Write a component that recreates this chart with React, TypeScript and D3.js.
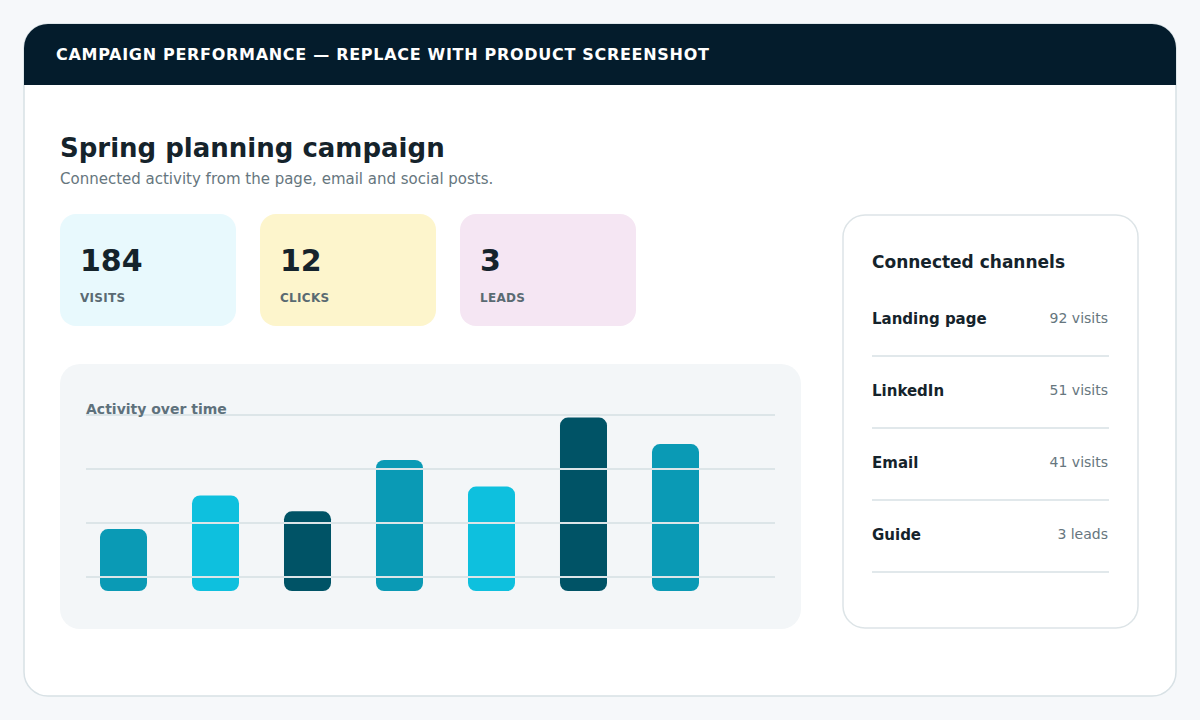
import React, { useEffect, useRef } from "react";
import * as d3 from "d3";

// kpi tiles
const kpiValues: number[] = [184, 12, 3];
const kpiLabels: string[] = ["VISITS", "CLICKS", "LEADS"];
const kpiColors: string[] = ["#e8f9fd", "#fdf5cc", "#f5e6f3"];

// activity bars (relative activity per period)
const activityPeriods: string[] = ["P1", "P2", "P3", "P4", "P5", "P6", "P7"];
const activityValues: number[] = [35, 54, 45, 74, 59, 98, 83];
const barColors: string[] = ["#0a9ab5", "#0ec0de", "#005366"];
const gridLevels: string[] = ["g1", "g2", "g3", "g4"];

// connected channels
const channelNames: string[] = ["Landing page", "LinkedIn", "Email", "Guide"];
const channelValues: number[] = [92, 51, 41, 3];
const channelUnits: string[] = ["visits", "visits", "visits", "leads"];

const FONT = "'DejaVu Sans', Verdana, sans-serif";
const W = 1200;
const H = 720;

export default function App() {
    const svgRef = useRef<SVGSVGElement>(null);

    useEffect(() => {
        document.body.style.margin = "0";
        const svg = d3.select(svgRef.current);
        svg.selectAll("*").remove();

        svg.append("rect").attr("width", W).attr("height", H).attr("fill", "#f6f8fa");

        // card + header clipped by the card shape
        const card = { x: 24, y: 24, w: 1152, h: 672, r: 24 };
        svg.append("defs")
            .append("clipPath")
            .attr("id", "cardClip")
            .append("rect")
            .attr("x", card.x)
            .attr("y", card.y)
            .attr("width", card.w)
            .attr("height", card.h)
            .attr("rx", card.r);

        svg.append("rect")
            .attr("x", card.x)
            .attr("y", card.y)
            .attr("width", card.w)
            .attr("height", card.h)
            .attr("rx", card.r)
            .attr("fill", "#ffffff")
            .attr("stroke", "#d8e1e5")
            .attr("stroke-width", 1.5);

        svg.append("rect")
            .attr("clip-path", "url(#cardClip)")
            .attr("x", card.x)
            .attr("y", card.y)
            .attr("width", card.w)
            .attr("height", 61)
            .attr("fill", "#041c2c");

        svg.append("text")
            .attr("x", 56)
            .attr("y", 60)
            .attr("font-family", FONT)
            .attr("font-size", 16)
            .attr("font-weight", "bold")
            .attr("letter-spacing", 0.7)
            .attr("fill", "#ffffff")
            .text("CAMPAIGN PERFORMANCE \u2014 REPLACE WITH PRODUCT SCREENSHOT");

        svg.append("text")
            .attr("x", 60)
            .attr("y", 157)
            .attr("font-family", FONT)
            .attr("font-size", 26)
            .attr("font-weight", "bold")
            .attr("fill", "#15232b")
            .text("Spring planning campaign");

        svg.append("text")
            .attr("x", 60)
            .attr("y", 184)
            .attr("font-family", FONT)
            .attr("font-size", 15)
            .attr("fill", "#66767e")
            .text("Connected activity from the page, email and social posts.");

        // kpi tiles
        const kpiX = d3
            .scaleBand<number>()
            .domain(d3.range(kpiValues.length))
            .range([60, 636])
            .paddingInner(0.12)
            .paddingOuter(0);
        const kpi = svg
            .selectAll(".kpi")
            .data(kpiValues)
            .enter()
            .append("g")
            .attr("class", "kpi")
            .attr("transform", (d, i) => "translate(" + kpiX(i) + ",214)");
        kpi.append("rect")
            .attr("width", kpiX.bandwidth())
            .attr("height", 112)
            .attr("rx", 16)
            .attr("fill", (d, i) => kpiColors[i]);
        kpi.append("text")
            .attr("x", 20)
            .attr("y", 57)
            .attr("font-family", FONT)
            .attr("font-size", 30)
            .attr("font-weight", "bold")
            .attr("fill", "#15232b")
            .text(d => d);
        kpi.append("text")
            .attr("x", 20)
            .attr("y", 88)
            .attr("font-family", FONT)
            .attr("font-size", 12)
            .attr("font-weight", "bold")
            .attr("letter-spacing", 0.3)
            .attr("fill", "#5a6a72")
            .text((d, i) => kpiLabels[i]);

        // activity panel
        svg.append("rect")
            .attr("x", 60)
            .attr("y", 364)
            .attr("width", 741)
            .attr("height", 265)
            .attr("rx", 20)
            .attr("fill", "#f3f6f8");

        const xScale = d3.scaleBand().domain(activityPeriods).range([100, 699]).paddingInner(0.489).paddingOuter(0);
        const yScale = d3.scaleLinear().domain([0, 100]).range([591, 414]);
        const gridScale = d3.scalePoint().domain(gridLevels).range([415, 577]);

        svg.selectAll(".bar")
            .data(activityValues)
            .enter()
            .append("rect")
            .attr("class", "bar")
            .attr("x", (d, i) => xScale(activityPeriods[i])!)
            .attr("y", d => yScale(d))
            .attr("width", xScale.bandwidth())
            .attr("height", d => yScale(0) - yScale(d))
            .attr("rx", 8)
            .attr("fill", (d, i) => barColors[i % barColors.length]);

        svg.selectAll(".grid")
            .data(gridLevels)
            .enter()
            .append("line")
            .attr("class", "grid")
            .attr("x1", 86)
            .attr("x2", 775)
            .attr("y1", d => gridScale(d)!)
            .attr("y2", d => gridScale(d)!)
            .attr("stroke", "#dce5e8")
            .attr("stroke-width", 2);

        svg.append("text")
            .attr("x", 86)
            .attr("y", 414)
            .attr("font-family", FONT)
            .attr("font-size", 14)
            .attr("font-weight", "bold")
            .attr("fill", "#5e717c")
            .text("Activity over time");

        // connected channels panel
        svg.append("rect")
            .attr("x", 843)
            .attr("y", 215)
            .attr("width", 295)
            .attr("height", 413)
            .attr("rx", 22)
            .attr("fill", "#ffffff")
            .attr("stroke", "#dde4e7")
            .attr("stroke-width", 1.5);

        svg.append("text")
            .attr("x", 872)
            .attr("y", 268)
            .attr("font-family", FONT)
            .attr("font-size", 17)
            .attr("font-weight", "bold")
            .attr("fill", "#15232b")
            .text("Connected channels");

        const rowScale = d3.scaleBand().domain(channelNames).range([284, 572]);
        const row = svg
            .selectAll(".row")
            .data(channelNames)
            .enter()
            .append("g")
            .attr("class", "row")
            .attr("transform", d => "translate(0," + rowScale(d) + ")");
        row.append("text")
            .attr("x", 872)
            .attr("y", 40)
            .attr("font-family", FONT)
            .attr("font-size", 15)
            .attr("font-weight", "bold")
            .attr("fill", "#15232b")
            .text(d => d);
        row.append("text")
            .attr("x", 1108)
            .attr("y", 39)
            .attr("text-anchor", "end")
            .attr("font-family", FONT)
            .attr("font-size", 14)
            .attr("fill", "#66767e")
            .text((d, i) => channelValues[i] + " " + channelUnits[i]);
        row.append("line")
            .attr("x1", 872)
            .attr("x2", 1109)
            .attr("y1", rowScale.bandwidth())
            .attr("y2", rowScale.bandwidth())
            .attr("stroke", "#e1e8eb")
            .attr("stroke-width", 2);
    }, []);

    return <svg ref={svgRef} width={W} height={H} style={{ display: "block" }} />;
}
